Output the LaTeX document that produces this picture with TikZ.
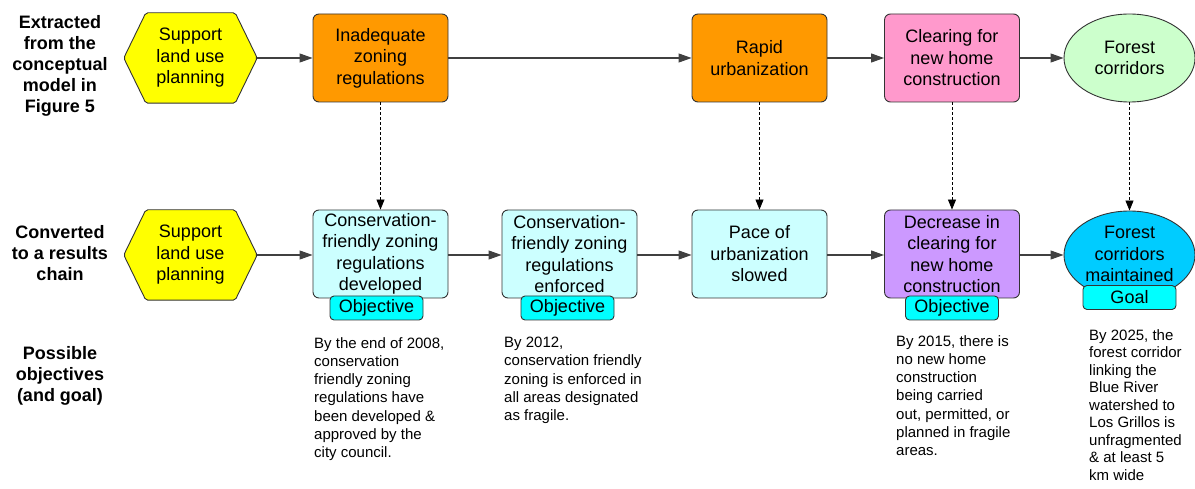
\documentclass[tikz,border=0pt]{standalone}
\usepackage{fontspec}
\setmainfont{Liberation Sans}
\usetikzlibrary{arrows.meta,shapes.geometric,backgrounds}
\definecolor{bordc}{HTML}{333333}
\definecolor{linec}{HTML}{404040}
\definecolor{hexc}{HTML}{FFFF00}
\definecolor{orangec}{HTML}{FF9900}
\definecolor{pinkc}{HTML}{FF99CC}
\definecolor{greenc}{HTML}{CCFFCC}
\definecolor{lcyanc}{HTML}{CCFFFF}
\definecolor{purplec}{HTML}{CC99FF}
\definecolor{goalc}{HTML}{00CCFF}
\definecolor{tagc}{HTML}{00FFFF}
\begin{document}
\begin{tikzpicture}[x=1pt,y=-1pt,
  every node/.style={font=\fontsize{18}{21.5}\selectfont, align=center, inner sep=0pt},
  box/.style={draw=bordc, line width=0.9pt, rounded corners=6pt, minimum width=135pt, minimum height=88pt},
  hexnode/.style={minimum width=133pt, minimum height=90pt},
  ell/.style={ellipse, draw=bordc, line width=0.9pt, minimum width=131pt, minimum height=88pt},
  tag/.style={draw=bordc, line width=0.9pt, fill=tagc, rounded corners=4pt, minimum width=93pt, minimum height=24pt},
  flow/.style={draw=linec, line width=1.1pt, -{Triangle[length=13pt,width=9pt]}},
  dep/.style={draw=black, line width=0.8pt, dash pattern=on 3pt off 2pt, -{Triangle[length=10pt,width=8pt]}},
  side/.style={font=\bfseries\fontsize{18}{21}\selectfont},
  note/.style={font=\fontsize{15}{18.3}\selectfont, align=left, anchor=north west}
]
\useasboundingbox (0,0) rectangle (1195,489);

% side labels
\node[side] (l1) at (60,66) {Extracted\\from the\\conceptual\\model in\\Figure 5};
\node[side] (l2) at (60,253) {Converted\\to a results\\chain};
\node[side] (l3) at (60,376) {Possible\\objectives\\(and goal)};

% top row
\node[hexnode] (h1) at (190.5,58) {Support\\land use\\planning};
\node[box, fill=orangec] (t2) at (380.5,58) {Inadequate\\zoning\\regulations};
\node[box, fill=orangec] (t3) at (759.5,58) {Rapid\\urbanization};
\node[box, fill=pinkc] (t4) at (952,58) {Clearing for\\new home\\construction};
\node[ell, fill=greenc] (e1) at (1129.5,58) {Forest\\corridors};

% bottom row
\node[hexnode] (h2) at (190.5,255) {Support\\land use\\planning};
\node[box, fill=lcyanc] (b2) at (380.5,254) {Conservation-\\friendly zoning\\regulations\\developed};
\node[box, fill=lcyanc] (b3) at (569.5,254) {Conservation-\\friendly zoning\\regulations\\enforced};
\node[box, fill=lcyanc] (b4) at (759.5,254) {Pace of\\urbanization\\slowed};
\node[box, fill=purplec] (b5) at (952,254) {Decrease in\\clearing for\\new home\\construction};
\node[ell, fill=goalc] (e2) at (1129.5,255) {};
\node (e2t) at (1129.5,254) {Forest\\corridors\\maintained};

% tags
\node[tag] (o2) at (376.5,308) {Objective};
\node[tag] (o3) at (567.5,308) {Objective};
\node[tag] (o5) at (952,308) {Objective};
\node[tag] (g1) at (1129.5,297.5) {Goal};

% hexagons
\begin{scope}[on background layer]
\foreach \h in {h1,h2}
  \filldraw[fill=hexc, draw=bordc, line width=0.9pt, rounded corners=2pt]
    (\h.west) -- ([xshift=22pt]\h.north west) -- ([xshift=-22pt]\h.north east)
    -- (\h.east) -- ([xshift=-22pt]\h.south east) -- ([xshift=22pt]\h.south west) -- cycle;
\end{scope}

% flows
\draw[flow] (h1) -- (t2);
\draw[flow] (t2) -- (t3);
\draw[flow] (t3) -- (t4);
\draw[flow] (t4) -- (e1);
\draw[flow] (h2.east) -- (b2.west |- h2.east);
\draw[flow] (b2.east |- h2.east) -- (b3.west |- h2.east);
\draw[flow] (b3.east |- h2.east) -- (b4.west |- h2.east);
\draw[flow] (b4.east |- h2.east) -- (b5.west |- h2.east);
\draw[flow] (b5.east |- h2.east) -- (e2);

% dependencies
\draw[dep] (t2) -- (b2);
\draw[dep] (t3) -- (b4);
\draw[dep] (t4) -- (b5);
\draw[dep] (e1) -- (e2);

% notes
\node[note] (n2) at (314,337) {By the end of 2008,\\conservation\\friendly zoning\\regulations have\\been developed \&\\approved by the\\city council.};
\node[note] (n3) at (504,337) {By 2012,\\conservation friendly\\zoning is enforced in\\all areas designated\\as fragile.};
\node[note] (n5) at (896,335) {By 2015, there is\\no new home\\construction\\being carried\\out, permitted, or\\planned in fragile\\areas.};
\node[note, font=\fontsize{15}{17.5}\selectfont] (n6) at (1089,329) {By 2025, the\\forest corridor\\linking the\\Blue River\\watershed to\\Los Grillos is\\unfragmented\\\& at least 5\\km wide};
\end{tikzpicture}
\end{document}
